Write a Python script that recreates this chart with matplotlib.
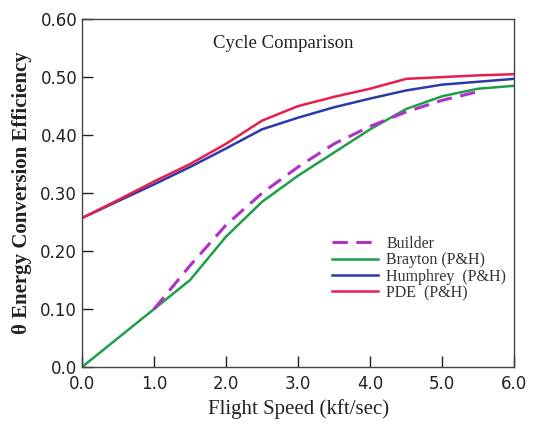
import matplotlib
matplotlib.use("Agg")
import matplotlib.pyplot as plt

# data
speed = [0.0, 0.5, 1.0, 1.5, 2.0, 2.5, 3.0, 3.5, 4.0, 4.5, 5.0, 5.5, 6.0]
pde = [0.257, 0.288, 0.320, 0.350, 0.385, 0.425, 0.450, 0.466, 0.480, 0.497, 0.500, 0.503, 0.505]
humphrey = [0.257, 0.286, 0.315, 0.345, 0.377, 0.410, 0.430, 0.448, 0.463, 0.477, 0.487, 0.492, 0.497]
brayton = [0.0, 0.050, 0.100, 0.150, 0.225, 0.285, 0.330, 0.370, 0.410, 0.445, 0.467, 0.480, 0.485]

builder_speed = [1.0, 1.5, 2.0, 2.5, 3.0, 3.5, 4.0, 4.5, 5.0, 5.5]
builder = [0.100, 0.175, 0.245, 0.300, 0.345, 0.385, 0.415, 0.440, 0.460, 0.475]

xticks = [0.0, 1.0, 2.0, 3.0, 4.0, 5.0, 6.0]
yticks = [0.0, 0.1, 0.2, 0.3, 0.4, 0.5, 0.6]
ytick_labels = ["0.0", "0.10", "0.20", "0.30", "0.40", "0.50", "0.60"]

fig = plt.figure(figsize=(5.47, 4.25), dpi=100)
ax = fig.add_axes([0.15, 0.1365, 0.79, 0.8185])

ax.plot(builder_speed, builder, color="#b030c8", lw=2.2, ls=(0, (5, 2.8)), label="Builder", zorder=4)
ax.plot(speed, brayton, color="#1f9e48", lw=1.8, label="Brayton (P&H)")
ax.plot(speed, humphrey, color="#2b3aa8", lw=1.8, label="Humphrey  (P&H)")
ax.plot(speed, pde, color="#e81e4c", lw=1.8, label="PDE  (P&H)")

ax.set_xlim(0, 6)
ax.set_ylim(0, 0.6)
ax.set_xticks(xticks)
ax.set_xticklabels(["%.1f" % v for v in xticks])
ax.set_yticks(yticks)
ax.set_yticklabels(ytick_labels)
ax.tick_params(direction="in", length=8, width=1, labelsize=12, colors="#222222")
ax.tick_params(axis="x", pad=6)
for s in ax.spines.values():
    s.set_color("#444444")
    s.set_linewidth(1.0)

ax.text(2.79, 0.558, "Cycle Comparison", fontsize=13.5, family="Liberation Serif",
        ha="center", va="center", color="#222222")

ax.set_xlabel("Flight Speed (kft/sec)", family="Liberation Serif", fontsize=15, color="#222222")
ax.set_ylabel("\u03b8 Energy Conversion Efficiency", family="Liberation Serif", fontsize=15,
              fontweight="bold", color="#222222", labelpad=6)

leg = ax.legend(loc="upper left", bbox_to_anchor=(0.545, 0.418), frameon=False,
                prop={"family": "Liberation Serif", "size": 11.5},
                handlelength=2.9, labelspacing=0.02, handletextpad=0.5)
for t in leg.get_texts():
    t.set_color("#333333")

fig.savefig("out.png", dpi=100)
